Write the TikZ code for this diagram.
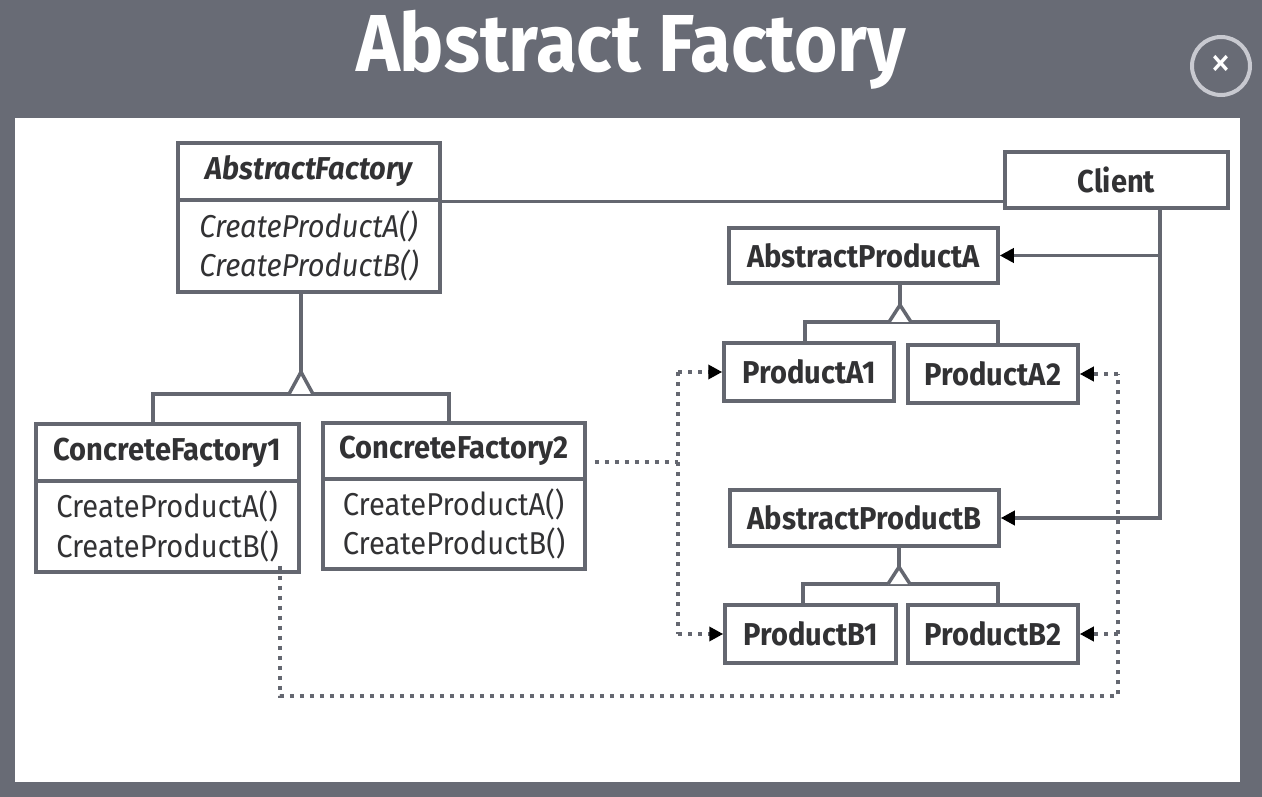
\documentclass[tikz,border=0pt]{standalone}
\usepackage{fontspec}
\setmainfont[FakeStretch=0.92]{Fira Sans}
\usetikzlibrary{arrows.meta, positioning}
\definecolor{bggray}{RGB}{104,107,117}
\definecolor{linegray}{RGB}{100,103,112}
\definecolor{textdark}{RGB}{50,50,52}
\definecolor{ringgray}{RGB}{200,201,208}
\newdimen\pxu \pxu=0.02cm
\newcommand{\boxfont}{\fontsize{18}{22.5}\selectfont}

\begin{document}
\begin{tikzpicture}[x=0.02cm, y=-0.02cm,
        boxsize/.style 2 args={minimum width=#1\pxu, minimum height=#2\pxu},
        umlbox/.style={rectangle, draw=linegray, line width=3.5\pxu, fill=white, inner sep=0pt, text=textdark, align=left},
        headbox/.style={umlbox, font=\boxfont\bfseries},
        abshead/.style={umlbox, font=\boxfont\bfseries\itshape},
        bodybox/.style={umlbox, font=\boxfont},
        absbody/.style={umlbox, font=\boxfont\itshape},
        line/.style={draw=linegray, line width=3.5\pxu},
        assoc/.style={line, -{Triangle[length=0.28cm, width=0.28cm, color=black]}},
        dep/.style={line, line width=4\pxu, dash pattern=on 4\pxu off 6\pxu},
        deparrow/.style={dep, -{Triangle[length=0.28cm, width=0.28cm, color=black]}},
        gen/.style={line, fill=white, line join=miter}
    ]
        % frame
        \fill[bggray] (0,0) rectangle (1262,797);
        \fill[white] (15,118) rectangle (1240,782);
        \node[text=white, font=\fontsize{46}{52}\selectfont\bfseries] (title) at (631,50) {Abstract Factory};
        \node[circle, draw=ringgray, line width=4\pxu, minimum size=58\pxu, inner sep=0pt, text=white, font=\fontsize{26}{26}\selectfont] (close) at (1221,66) {×};

        % factories
        \node[abshead, boxsize={262}{57}] (afhead) at (309,171.5) {AbstractFactory};
        \node[absbody, boxsize={262}{92}] (afbody) at (309,246) {CreateProductA()\\CreateProductB()};
        \node[headbox, boxsize={263}{57}] (cf1head) at (167.5,452.5) {ConcreteFactory1};
        \node[bodybox, boxsize={263}{91}] (cf1body) at (167.5,526.5) {CreateProductA()\\CreateProductB()};
        \node[headbox, boxsize={262}{56}] (cf2head) at (454,451) {ConcreteFactory2};
        \node[bodybox, boxsize={262}{90}] (cf2body) at (454,524) {CreateProductA()\\CreateProductB()};

        % client and products
        \node[headbox, boxsize={223}{56}] (client) at (1116.5,180) {Client};
        \node[headbox, boxsize={269}{55}] (apa) at (863.5,255.5) {AbstractProductA};
        \node[headbox, boxsize={170}{58}] (pa1) at (809,372) {ProductA1};
        \node[headbox, boxsize={170}{58}] (pa2) at (993,374) {ProductA2};
        \node[headbox, boxsize={269}{56}] (apb) at (864.5,518) {AbstractProductB};
        \node[headbox, boxsize={171}{58}] (pb1) at (810.5,634) {ProductB1};
        \node[headbox, boxsize={170}{58}] (pb2) at (993,634) {ProductB2};

        % inheritance
        \coordinate (fapex) at (301,372);
        \coordinate (fl) at (153,394);
        \coordinate (fr) at (449,394);
        \draw[line] (afbody.south -| fapex) -- (fapex);
        \draw[line] (cf1head.north -| fl) -- (fl) -- (fr) -- (cf2head.north -| fr);
        \draw[gen] (289,394) -- (fapex) -- (313,394);

        \coordinate (aapex) at (900,305);
        \coordinate (al) at (805,322);
        \coordinate (ar) at (998,322);
        \draw[line] (apa.south -| aapex) -- (aapex);
        \draw[line] (pa1.north -| al) -- (al) -- (ar) -- (pa2.north -| ar);
        \draw[gen] (889,322) -- (aapex) -- (911,322);

        \coordinate (bapex) at (899,567);
        \coordinate (bl) at (803,584);
        \coordinate (br) at (998,584);
        \draw[line] (apb.south -| bapex) -- (bapex);
        \draw[line] (pb1.north -| bl) -- (bl) -- (br) -- (pb2.north -| br);
        \draw[gen] (888,584) -- (bapex) -- (910,584);

        % associations
        \coordinate (cbus) at (1160,518);
        \draw[line] (afhead.south east) -- (client.west |- afhead.south east);
        \draw[assoc] (client.south -| cbus) |- (apa.east);
        \draw[assoc] (apa.east -| cbus) -- (cbus) -- (apb.east);

        % creates
        \coordinate (dl) at (678,462);
        \draw[dep] ([xshift=8\pxu]cf2head.east |- dl) -- (dl);
        \draw[dep] (dl |- pa1.west) -- (dl |- pb1.west);
        \draw[deparrow] (dl |- pa1.west) -- (pa1.west);
        \draw[deparrow] (dl |- pb1.west) -- (pb1.west);

        \coordinate (db) at (280,696);
        \coordinate (dr) at (1118,696);
        \draw[dep] ([yshift=8\pxu]cf1body.south -| db) -- (db) -- (dr) -- (dr |- pa2.east);
        \draw[deparrow] (dr |- pa2.east) -- (pa2.east);
        \draw[deparrow] (dr |- pb2.east) -- (pb2.east);
    \end{tikzpicture}
\end{document}
